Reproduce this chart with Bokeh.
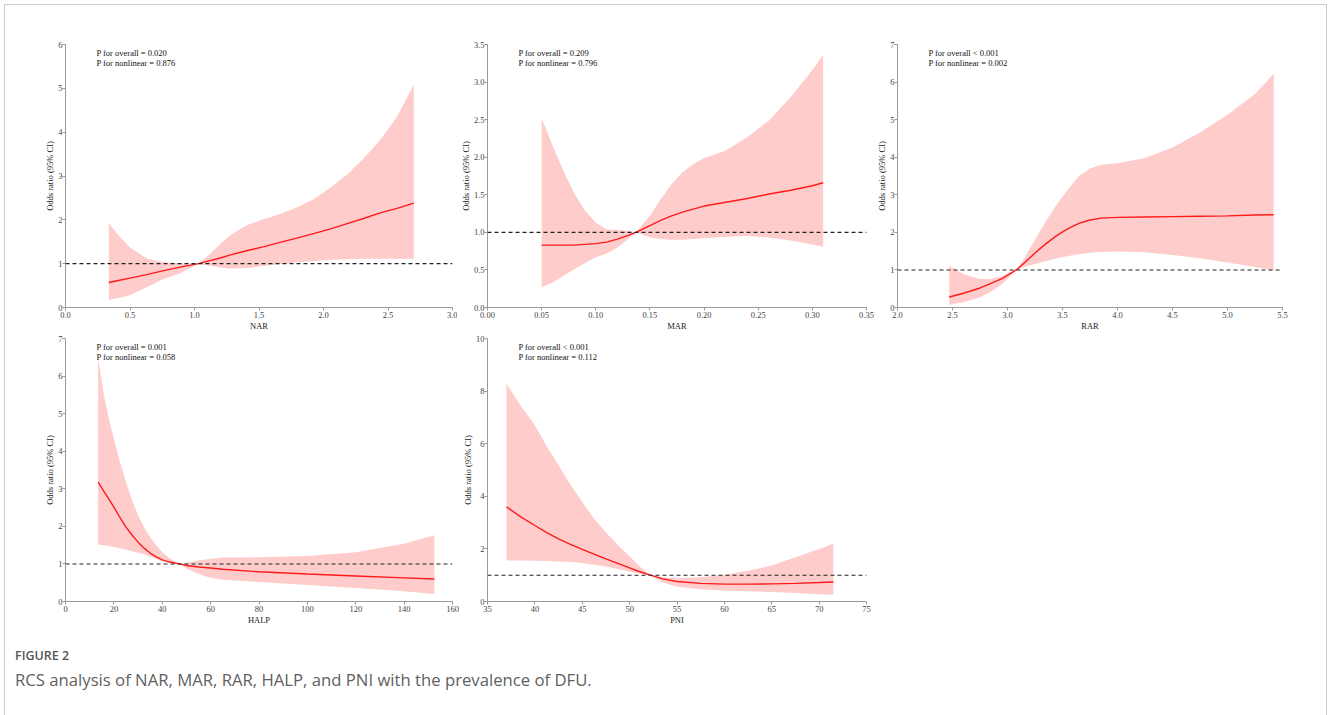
from bokeh.plotting import figure
from bokeh.layouts import column, row
from bokeh.models import FixedTicker, Span, Label, Div, Range1d, PrintfTickFormatter
from bokeh.embed import file_html
from bokeh.resources import INLINE

# ---------------- data ----------------
nar_x = [0.336, 0.40, 0.50, 0.63, 0.76, 0.89, 1.03, 1.12, 1.20, 1.28, 1.41, 1.54, 1.67, 1.80, 1.93, 2.06, 2.19, 2.31, 2.44, 2.57, 2.70]
nar_or = [0.57, 0.61, 0.67, 0.75, 0.84, 0.92, 1.0, 1.07, 1.13, 1.20, 1.30, 1.39, 1.49, 1.59, 1.69, 1.80, 1.92, 2.03, 2.16, 2.26, 2.38]
nar_hi = [1.93, 1.68, 1.37, 1.12, 1.03, 1.01, 1.0, 1.22, 1.45, 1.66, 1.88, 2.02, 2.14, 2.29, 2.48, 2.75, 3.05, 3.40, 3.82, 4.35, 5.08]
nar_lo = [0.17, 0.21, 0.28, 0.46, 0.65, 0.78, 1.0, 0.95, 0.91, 0.89, 0.90, 0.95, 0.99, 1.03, 1.06, 1.09, 1.10, 1.11, 1.11, 1.11, 1.11]

mar_x = [0.05, 0.06, 0.07, 0.08, 0.09, 0.10, 0.11, 0.12, 0.13, 0.137, 0.15, 0.16, 0.17, 0.18, 0.19, 0.20, 0.22, 0.24, 0.26, 0.28, 0.30, 0.31]
mar_or = [0.83, 0.83, 0.83, 0.83, 0.84, 0.85, 0.87, 0.91, 0.96, 1.0, 1.09, 1.16, 1.22, 1.27, 1.31, 1.35, 1.40, 1.45, 1.51, 1.56, 1.62, 1.66]
mar_hi = [2.52, 2.16, 1.82, 1.52, 1.29, 1.13, 1.04, 1.03, 1.02, 1.0, 1.22, 1.44, 1.64, 1.80, 1.91, 1.99, 2.09, 2.27, 2.49, 2.80, 3.16, 3.36]
mar_lo = [0.27, 0.33, 0.42, 0.51, 0.59, 0.67, 0.72, 0.80, 0.91, 1.0, 0.93, 0.91, 0.90, 0.90, 0.91, 0.92, 0.94, 0.95, 0.93, 0.89, 0.84, 0.81]

rar_x = [2.47, 2.6, 2.75, 2.85, 2.95, 3.08, 3.15, 3.25, 3.35, 3.45, 3.55, 3.65, 3.75, 3.85, 4.0, 4.25, 4.5, 4.75, 5.0, 5.25, 5.42]
rar_or = [0.28, 0.38, 0.52, 0.64, 0.77, 1.0, 1.18, 1.45, 1.70, 1.92, 2.10, 2.24, 2.33, 2.38, 2.40, 2.41, 2.42, 2.43, 2.44, 2.46, 2.47]
rar_hi = [1.11, 0.89, 0.76, 0.76, 0.84, 1.0, 1.30, 1.80, 2.30, 2.75, 3.15, 3.50, 3.70, 3.80, 3.84, 3.98, 4.26, 4.66, 5.13, 5.68, 6.22]
rar_lo = [0.07, 0.14, 0.27, 0.42, 0.62, 1.0, 1.08, 1.16, 1.24, 1.31, 1.37, 1.42, 1.46, 1.48, 1.49, 1.47, 1.40, 1.31, 1.20, 1.08, 0.99]

halp_x = [13.5, 16, 18, 20, 22.5, 25, 27.5, 30, 32.5, 35, 37.5, 40, 43, 47, 50, 55, 60, 65, 80, 100, 120, 140, 152.5]
halp_or = [3.18, 2.92, 2.72, 2.51, 2.24, 1.98, 1.77, 1.58, 1.42, 1.29, 1.19, 1.11, 1.05, 1.0, 0.96, 0.92, 0.89, 0.86, 0.79, 0.73, 0.68, 0.63, 0.60]
halp_hi = [6.48, 5.44, 4.85, 4.33, 3.72, 3.18, 2.70, 2.29, 1.97, 1.71, 1.50, 1.31, 1.15, 1.0, 1.03, 1.09, 1.14, 1.17, 1.18, 1.21, 1.31, 1.54, 1.76]
halp_lo = [1.52, 1.50, 1.48, 1.45, 1.42, 1.38, 1.34, 1.30, 1.25, 1.20, 1.14, 1.08, 1.03, 1.0, 0.88, 0.73, 0.63, 0.58, 0.52, 0.44, 0.36, 0.27, 0.20]

pni_x = [37, 38.5, 40, 41.25, 42.5, 43.75, 45, 46.25, 47.5, 48.75, 50, 51, 52.2, 53.5, 55, 57.5, 60, 62.5, 65, 67.5, 70, 71.5]
pni_or = [3.60, 3.22, 2.89, 2.62, 2.38, 2.17, 1.98, 1.80, 1.62, 1.45, 1.28, 1.14, 1.0, 0.86, 0.76, 0.69, 0.66, 0.66, 0.67, 0.69, 0.72, 0.74]
pni_hi = [8.29, 7.45, 6.70, 5.90, 5.18, 4.45, 3.78, 3.15, 2.62, 2.15, 1.72, 1.35, 1.0, 0.92, 0.88, 0.92, 1.02, 1.17, 1.37, 1.68, 2.00, 2.20]
pni_lo = [1.56, 1.56, 1.55, 1.54, 1.52, 1.50, 1.46, 1.40, 1.33, 1.24, 1.13, 1.06, 1.0, 0.72, 0.56, 0.47, 0.42, 0.39, 0.36, 0.32, 0.28, 0.25]

nar_ticks_x = [0.0, 0.5, 1.0, 1.5, 2.0, 2.5, 3.0]
nar_ticks_y = [0, 1, 2, 3, 4, 5, 6]
mar_ticks_x = [0.00, 0.05, 0.10, 0.15, 0.20, 0.25, 0.30, 0.35]
mar_ticks_y = [0.0, 0.5, 1.0, 1.5, 2.0, 2.5, 3.0, 3.5]
rar_ticks_x = [2.0, 2.5, 3.0, 3.5, 4.0, 4.5, 5.0, 5.5]
rar_ticks_y = [0, 1, 2, 3, 4, 5, 6, 7]
halp_ticks_x = [0, 20, 40, 60, 80, 100, 120, 140, 160]
halp_ticks_y = [0, 1, 2, 3, 4, 5, 6, 7]
pni_ticks_x = [35, 40, 45, 50, 55, 60, 65, 70, 75]
pni_ticks_y = [0, 2, 4, 6, 8, 10]

y_label = "Odds ratio (95% CI)"
nar_p = ["P for overall = 0.020", "P for nonlinear = 0.876"]
mar_p = ["P for overall = 0.209", "P for nonlinear = 0.796"]
rar_p = ["P for overall < 0.001", "P for nonlinear = 0.002"]
halp_p = ["P for overall = 0.001", "P for nonlinear = 0.058"]
pni_p = ["P for overall < 0.001", "P for nonlinear = 0.112"]

FONT = "Liberation Serif"
FS = "8.5px"


def panel(x, orv, lo, hi, xlabel, xticks, yticks, xfmt, yfmt, ptext,
          frame_w, frame_h, bl, br, bt, bb):
    p = figure(width=bl + frame_w + br, height=bt + frame_h + bb,
               x_range=Range1d(xticks[0], xticks[-1]),
               y_range=Range1d(yticks[0], yticks[-1]),
               output_backend="svg", toolbar_location=None,
               min_border_left=bl, min_border_right=br,
               min_border_top=bt, min_border_bottom=bb)
    p.outline_line_color = None
    p.xgrid.visible = False
    p.ygrid.visible = False
    p.background_fill_color = None
    p.border_fill_color = None
    p.varea(x=x, y1=lo, y2=hi, fill_color="#ffcccc", fill_alpha=1.0)
    p.add_layout(Span(location=1, dimension="width", line_color="#222222",
                      line_dash="4 3", line_width=1.1))
    p.line(x, orv, line_color="#ff1a1a", line_width=1.4)
    for ax, ticks, fmt in ((p.xaxis[0], xticks, xfmt), (p.yaxis[0], yticks, yfmt)):
        ax.ticker = FixedTicker(ticks=ticks, minor_ticks=[])
        ax.formatter = PrintfTickFormatter(format=fmt)
        ax.axis_line_color = "#999999"
        ax.major_tick_line_color = "#999999"
        ax.major_tick_in = 0
        ax.major_tick_out = 3
        ax.major_label_standoff = 1
        ax.major_label_text_font = FONT
        ax.major_label_text_font_size = FS
        ax.major_label_text_color = "#444444"
        ax.axis_label_text_font = FONT
        ax.axis_label_text_font_size = FS
        ax.axis_label_text_font_style = "normal"
        ax.axis_label_text_color = "#222222"
        ax.axis_label_standoff = 0
    p.yaxis.major_label_standoff = 0
    p.xaxis.axis_label = xlabel
    p.yaxis.axis_label = y_label
    for i, t in enumerate(ptext):
        p.add_layout(Label(x=31, y=frame_h - 8.7 - 9.6 * i, x_units="screen", y_units="screen",
                           text=t, text_font=FONT, text_font_size=FS,
                           text_color="#111111", text_baseline="middle"))
    return p


p1 = panel(nar_x, nar_or, nar_lo, nar_hi, "NAR", nar_ticks_x, nar_ticks_y, "%.1f", "%d", nar_p,
           387, 263, 60, 5, 39, 27)
p2 = panel(mar_x, mar_or, mar_lo, mar_hi, "MAR", mar_ticks_x, mar_ticks_y, "%.2f", "%.1f", mar_p,
           379, 263, 30, 8, 39, 27)
p3 = panel(rar_x, rar_or, rar_lo, rar_hi, "RAR", rar_ticks_x, rar_ticks_y, "%.1f", "%d", rar_p,
           387, 263, 21, 10, 39, 27)
p4 = panel(halp_x, halp_or, halp_lo, halp_hi, "HALP", halp_ticks_x, halp_ticks_y, "%d", "%d", halp_p,
           387, 263, 60, 7, 4, 28)
p5 = panel(pni_x, pni_or, pni_lo, pni_hi, "PNI", pni_ticks_x, pni_ticks_y, "%d", "%d", pni_p,
           382, 263, 25, 8, 4, 28)

caption = Div(text=(
    '<div style="position:relative;width:1290px;height:78px;">'
    '<div style="position:absolute;left:5px;top:13px;font-family:\'Open Sans\';font-weight:600;'
    'font-size:12.5px;color:#555555;white-space:nowrap;">FIGURE 2</div>'
    '<div style="position:absolute;left:5px;top:34px;font-family:\'Open Sans\';font-weight:400;'
    'font-size:16.7px;color:#5f5f5f;white-space:nowrap;">'
    'RCS analysis of NAR, MAR, RAR, HALP, and PNI with the prevalence of DFU.</div></div>'),
    width=1290, height=78)

layout = column(row(p1, p2, p3), row(p4, p5), caption,
                styles={"border-left": "1px solid #cccccc", "border-top": "1px solid #cccccc",
                        "border-right": "1px solid #cccccc",
                        "margin-left": "4px", "margin-top": "4px"},
                width=1323)

open("out.html", "w").write(file_html(layout, INLINE))
